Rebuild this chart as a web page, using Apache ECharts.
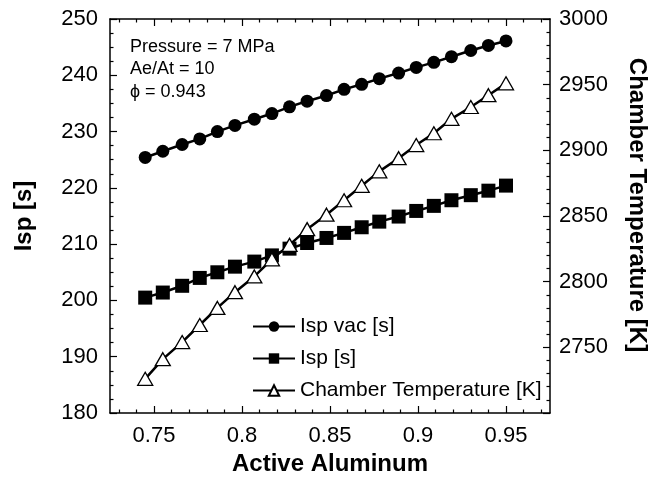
<!DOCTYPE html>
<html>
<head>
<meta charset="utf-8">
<script src="https://cdn.jsdelivr.net/npm/echarts@6/dist/echarts.min.js"></script>
<style>
html,body{margin:0;padding:0;background:#fff;}
#chart{width:657px;height:483px;}
</style>
</head>
<body>
<div id="chart"></div>
<script>
// active aluminum fraction (x)
const activeAl = [0.745, 0.755, 0.766, 0.776, 0.786, 0.796, 0.807, 0.817, 0.827, 0.837, 0.848,
  0.858, 0.868, 0.878, 0.889, 0.899, 0.909, 0.919, 0.930, 0.940, 0.950];
const ispVac = [225.4, 226.5, 227.7, 228.7, 230.0, 231.1, 232.2, 233.2, 234.4, 235.4, 236.4,
  237.5, 238.4, 239.4, 240.4, 241.4, 242.3, 243.3, 244.4, 245.3, 246.1];
const isp = [200.5, 201.4, 202.6, 204.0, 205.0, 206.0, 206.9, 208.0, 209.2, 210.2, 211.1,
  212.0, 213.0, 214.0, 214.9, 215.9, 216.8, 217.8, 218.7, 219.5, 220.4];
const chamberTemp = [2726, 2741, 2754, 2767, 2780, 2792, 2804, 2817, 2828, 2840, 2851,
  2862, 2873, 2884, 2894, 2904, 2913, 2924, 2933, 2942, 2951];

const xTicks = [0.75, 0.8, 0.85, 0.9, 0.95];
const xMinorTicks = [0.73, 0.74, 0.76, 0.77, 0.78, 0.79, 0.81, 0.82, 0.83, 0.84, 0.86, 0.87,
  0.88, 0.89, 0.91, 0.92, 0.93, 0.94, 0.96, 0.97];
const notes = ['Pressure = 7 MPa', 'Ae/At = 10', 'ϕ = 0.943'];

const FONT = 'Liberation Sans, Arial, sans-serif';
const black = '#000';

function pairs(ys) {
  return activeAl.map((x, i) => [x, ys[i]]);
}

function xAx(pos, ticks, len, main) {
  return {
    type: 'value', position: pos, min: 0.725, max: 0.975,
    axisLine: {show: main, onZero: false, lineStyle: {color: black, width: 1.5}},
    axisTick: {inside: true, length: len, customValues: ticks, lineStyle: {color: black, width: 1.2}},
    axisLabel: {show: main && pos === 'bottom', customValues: xTicks, fontSize: 22, color: black,
      margin: 12, fontFamily: FONT},
    splitLine: {show: false}
  };
}

const xAxes = [
  xAx('bottom', xTicks, 7, true),
  xAx('bottom', xMinorTicks, 3.5, false),
  xAx('top', xTicks, 7, true),
  xAx('top', xMinorTicks, 3.5, false)
];
xAxes[0].name = 'Active Aluminum';
xAxes[0].nameLocation = 'middle';
xAxes[0].nameGap = 39;
xAxes[0].nameTextStyle = {fontSize: 24, fontWeight: 'bold', color: black, fontFamily: FONT};

const chart = echarts.init(document.getElementById('chart'));
chart.setOption({
  animation: false,
  backgroundColor: '#fff',
  textStyle: {fontFamily: FONT},
  grid: {left: 110, right: 104, top: 19, bottom: 70},
  xAxis: xAxes,
  yAxis: [
    {
      type: 'value', position: 'left', min: 180, max: 250, interval: 10,
      axisLine: {show: true, lineStyle: {color: black, width: 1.5}},
      axisTick: {inside: true, length: 7, lineStyle: {color: black, width: 1.2}},
      minorTick: {show: true, splitNumber: 4, length: 3.5, lineStyle: {color: black, width: 1.2}},
      axisLabel: {fontSize: 22, color: black, margin: 12, fontFamily: FONT},
      splitLine: {show: false},
      name: 'Isp [s]', nameLocation: 'middle', nameRotate: 90, nameGap: 74,
      nameTextStyle: {fontSize: 24, fontWeight: 'bold', color: black, fontFamily: FONT}
    },
    {
      type: 'value', position: 'right', min: 2700, max: 3000, interval: 50,
      axisLine: {show: true, lineStyle: {color: black, width: 1.5}},
      axisTick: {inside: true, length: 7, lineStyle: {color: black, width: 1.2}},
      minorTick: {show: true, splitNumber: 5, length: 3.5, lineStyle: {color: black, width: 1.2}},
      axisLabel: {fontSize: 22, color: black, margin: 9, fontFamily: FONT, showMinLabel: false,
        formatter: v => String(v)},
      splitLine: {show: false},
      name: 'Chamber Temperature [K]', nameLocation: 'middle', nameRotate: -90, nameGap: 75,
      nameTextStyle: {fontSize: 24, fontWeight: 'bold', color: black, fontFamily: FONT,
        padding: [0, 22, 0, 0]}
    }
  ],
  legend: {
    orient: 'vertical', left: 252, top: 316, padding: 0,
    itemWidth: 42, itemHeight: 13, itemGap: 11,
    textStyle: {fontSize: 21, color: black, fontFamily: FONT},
    data: ['Isp vac [s]', 'Isp [s]', 'Chamber Temperature [K]']
  },
  graphic: notes.map((t, i) => ({
    type: 'text', x: 130, y: 47 + i * 22.5,
    style: {text: t, font: '18px ' + FONT, fill: black, verticalAlign: 'middle'}
  })),
  series: [
    {
      name: 'Isp vac [s]', type: 'line', yAxisIndex: 0, data: pairs(ispVac),
      symbol: 'circle', symbolSize: 13, showAllSymbol: true,
      lineStyle: {color: black, width: 2.5}, itemStyle: {color: black}
    },
    {
      name: 'Isp [s]', type: 'line', yAxisIndex: 0, data: pairs(isp),
      symbol: 'rect', symbolSize: 14, showAllSymbol: true,
      lineStyle: {color: black, width: 2.5}, itemStyle: {color: black}
    },
    {
      name: 'Chamber Temperature [K]', type: 'line', yAxisIndex: 1, data: pairs(chamberTemp),
      symbol: 'triangle', symbolSize: [15, 13], showAllSymbol: true,
      lineStyle: {color: black, width: 2.5},
      itemStyle: {color: '#fff', borderColor: black, borderWidth: 1.3}
    }
  ]
});
</script>
</body>
</html>
